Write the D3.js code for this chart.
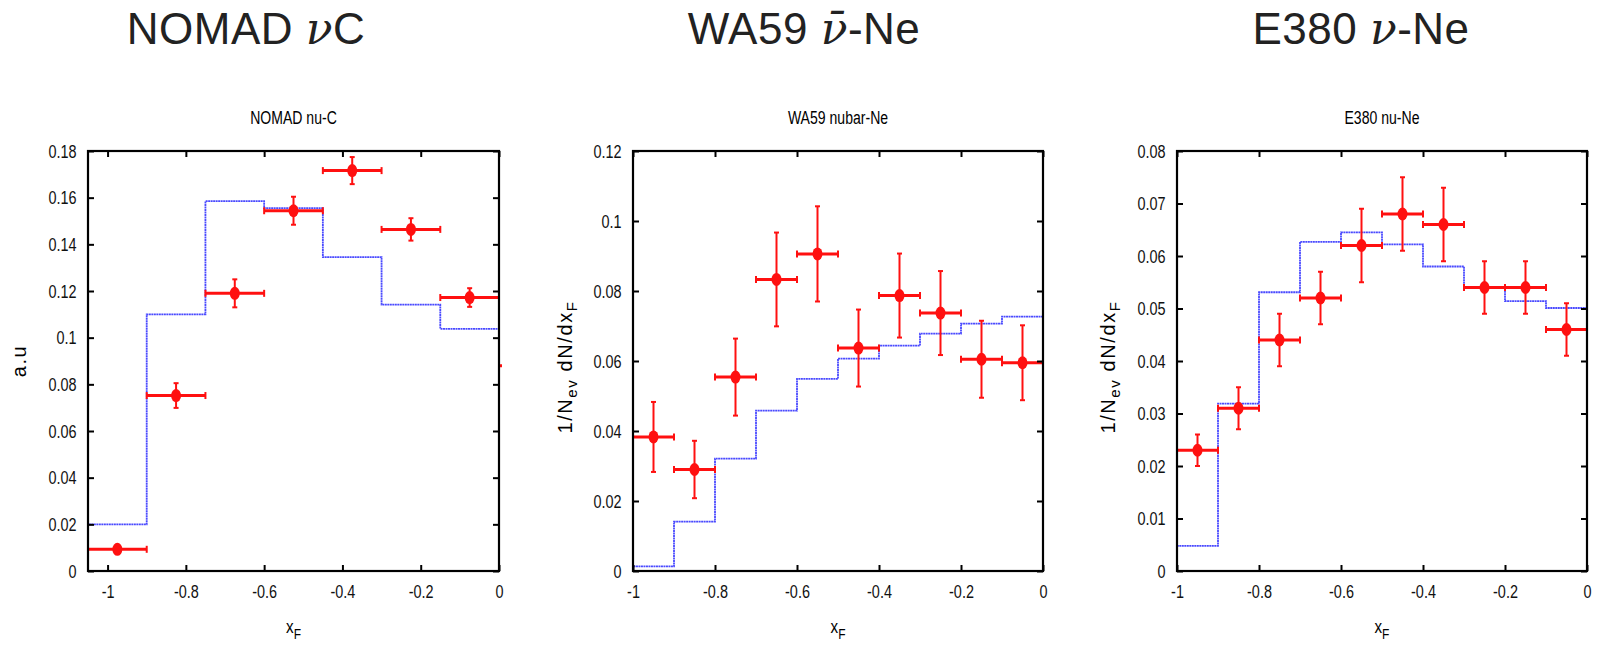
<!DOCTYPE html>
<html>
<head>
<meta charset="utf-8">
<script src="https://cdn.jsdelivr.net/npm/d3@7"></script>
<style>
  body { margin: 0; background: #fff; }
  text { font-family: "Liberation Sans", Arial, sans-serif; }
</style>
</head>
<body>
<svg id="chart" width="1598" height="659"></svg>
<script>
// bin edges, model histograms (blue) and measured points (red) for the three panels
const nomadEdges = [-1.05, -0.9, -0.75, -0.6, -0.45, -0.3, -0.15, 0];
const nomadModel = [0.020, 0.110, 0.1585, 0.1555, 0.1345, 0.1142, 0.1038];
const nomadX = [-0.975, -0.825, -0.675, -0.525, -0.375, -0.225, -0.075, 0.075];
const nomadY = [0.0093, 0.0752, 0.119, 0.1544, 0.1716, 0.1464, 0.1172, 0.088];
const nomadErr = [0, 0.0053, 0.006, 0.006, 0.0058, 0.0048, 0.004, 0.002];

const waEdges = [-1, -0.9, -0.8, -0.7, -0.6, -0.5, -0.4, -0.3, -0.2, -0.1, 0];
const waModel = [0.0013, 0.0141, 0.0321, 0.0458, 0.0549, 0.0607, 0.0644, 0.0678, 0.0707, 0.0727];
const waX = [-0.95, -0.85, -0.75, -0.65, -0.55, -0.45, -0.35, -0.25, -0.15, -0.05];
const waY = [0.0383, 0.029, 0.0554, 0.0833, 0.0906, 0.0637, 0.0787, 0.0737, 0.0605, 0.0595];
const waErr = [0.010, 0.0082, 0.011, 0.0134, 0.0136, 0.011, 0.012, 0.012, 0.011, 0.0107];

const e380Edges = [-1, -0.9, -0.8, -0.7, -0.6, -0.5, -0.4, -0.3, -0.2, -0.1, 0];
const e380Model = [0.0048, 0.0319, 0.0531, 0.0627, 0.0645, 0.0622, 0.058, 0.0541, 0.0514, 0.0501];
const e380X = [-0.95, -0.85, -0.75, -0.65, -0.55, -0.45, -0.35, -0.25, -0.15, -0.05];
const e380Y = [0.023, 0.031, 0.044, 0.052, 0.062, 0.068, 0.066, 0.054, 0.054, 0.046];
const e380Err = [0.003, 0.004, 0.005, 0.005, 0.007, 0.007, 0.007, 0.005, 0.005, 0.005];

const xTicks = [-1, -0.8, -0.6, -0.4, -0.2, 0];

const panels = [
  { big: "NOMAD ", sym: "ν", tail: "C", bar: false, bigX: 246, small: "NOMAD nu-C",
    left: 88, right: 499, xDom: [-1.05, 0], yMax: 0.18, yStep: 0.02, ylab: "a.u", ylabX: 20,
    edges: nomadEdges, model: nomadModel, px: nomadX, py: nomadY, pe: nomadErr },
  { big: "WA59 ", sym: "ν", tail: "-Ne", bar: true, bigX: 804, small: "WA59 nubar-Ne",
    left: 633, right: 1043, xDom: [-1, 0], yMax: 0.12, yStep: 0.02, ylab: "N", ylabX: 565,
    edges: waEdges, model: waModel, px: waX, py: waY, pe: waErr },
  { big: "E380 ", sym: "ν", tail: "-Ne", bar: false, bigX: 1361, small: "E380 nu-Ne",
    left: 1177, right: 1587, xDom: [-1, 0], yMax: 0.08, yStep: 0.01, ylab: "N", ylabX: 1108,
    edges: e380Edges, model: e380Model, px: e380X, py: e380Y, pe: e380Err }
];

const plotTop = 151, plotBottom = 571;
const svg = d3.select("#chart");

panels.forEach((p, i) => {
  const x = d3.scaleLinear().domain(p.xDom).range([p.left, p.right]);
  const y = d3.scaleLinear().domain([0, p.yMax]).range([plotBottom, plotTop]);
  const yTicks = d3.range(0, p.yMax + 1e-9, p.yStep);
  const fmt = v => +v.toFixed(3) + "";

  // big title
  const t = svg.append("text").attr("x", p.bigX).attr("y", 44)
    .attr("text-anchor", "middle").attr("font-size", 44).attr("fill", "#222")
    .attr("font-family", "Open Sans").attr("letter-spacing", 0.5);
  t.append("tspan").text(p.big);
  t.append("tspan").attr("font-style", "italic").attr("font-family", "DejaVu Serif")
    .text(p.bar ? "ν\u0304" : "ν");
  t.append("tspan").text(p.tail);

  // small title
  const cx = (p.left + p.right) / 2;
  svg.append("text").attr("x", cx).attr("y", 124)
    .attr("text-anchor", "middle").attr("font-size", 19)
    .attr("transform", `translate(${cx * 0.26},0) scale(0.74,1)`)
    .text(p.small);

  const clipId = "clip" + i;
  svg.append("clipPath").attr("id", clipId).append("rect")
    .attr("x", p.left).attr("y", plotTop).attr("width", p.right - p.left + 3).attr("height", plotBottom - plotTop);

  const g = svg.append("g").attr("clip-path", `url(#${clipId})`);

  // model histogram
  const pts = [[p.edges[0], 0]];
  p.model.forEach((v, k) => { pts.push([p.edges[k], v]); pts.push([p.edges[k + 1], v]); });
  pts.push([p.edges[p.edges.length - 1], 0]);
  g.append("path")
    .attr("d", d3.line().x(d => x(d[0])).y(d => y(d[1]))(pts))
    .attr("fill", "none").attr("stroke", "#4a4aff").attr("stroke-width", 1.8)
    .attr("stroke-dasharray", "2,0.5");

  // data points with error bars
  const hw = (p.edges[1] - p.edges[0]) / 2;
  p.px.forEach((xv, k) => {
    const yv = p.py[k], e = p.pe[k];
    const c = "#ff1010";
    const xa = x(xv - hw), xb = x(xv + hw), yc = y(yv);
    g.append("line").attr("x1", xa).attr("x2", xb).attr("y1", yc).attr("y2", yc)
      .attr("stroke", c).attr("stroke-width", 3);
    [xa, xb].forEach(xx => g.append("line").attr("x1", xx).attr("x2", xx)
      .attr("y1", yc - 3.5).attr("y2", yc + 3.5).attr("stroke", c).attr("stroke-width", 2));
    if (e > 0) {
      const ya = y(yv - e), yb = y(yv + e);
      g.append("line").attr("x1", x(xv)).attr("x2", x(xv)).attr("y1", ya).attr("y2", yb)
        .attr("stroke", c).attr("stroke-width", 2);
      [ya, yb].forEach(yy => g.append("line").attr("x1", x(xv) - 2.5).attr("x2", x(xv) + 2.5)
        .attr("y1", yy).attr("y2", yy).attr("stroke", c).attr("stroke-width", 2));
    }
    g.append("ellipse").attr("cx", x(xv)).attr("cy", yc).attr("rx", 5).attr("ry", 6.5).attr("fill", c);
  });

  // axes: inward ticks on all four sides
  const ax = svg.append("g");
  ax.append("g").attr("transform", `translate(0,${plotBottom})`)
    .call(d3.axisBottom(x).tickValues(xTicks).tickSize(-6).tickPadding(14).tickFormat(fmt))
    .call(s => s.select(".domain").remove());
  ax.append("g").attr("transform", `translate(0,${plotTop})`)
    .call(d3.axisTop(x).tickValues(xTicks).tickSize(-6).tickFormat(""))
    .call(s => s.select(".domain").remove());
  ax.append("g").attr("transform", `translate(${p.left},0)`)
    .call(d3.axisLeft(y).tickValues(yTicks).tickSize(-6).tickPadding(15).tickFormat(fmt))
    .call(s => s.select(".domain").remove());
  ax.append("g").attr("transform", `translate(${p.right},0)`)
    .call(d3.axisRight(y).tickValues(yTicks).tickSize(-6).tickFormat(""))
    .call(s => s.select(".domain").remove());
  ax.selectAll(".tick line").attr("stroke", "#000").attr("stroke-width", 2);
  ax.selectAll(".tick text").attr("fill", "#111").attr("font-family", "Liberation Sans")
    .attr("font-size", 19).attr("transform", "scale(0.76,1)");

  svg.append("rect").attr("x", p.left).attr("y", plotTop)
    .attr("width", p.right - p.left).attr("height", plotBottom - plotTop)
    .attr("fill", "none").attr("stroke", "#000").attr("stroke-width", 2.2);

  // axis labels
  const xl = svg.append("text").attr("x", cx).attr("y", 633)
    .attr("text-anchor", "middle").attr("font-size", 19)
    .attr("transform", `translate(${cx * 0.2},0) scale(0.8,1)`);
  xl.append("tspan").text("x");
  xl.append("tspan").attr("dy", 6).attr("font-size", 15).text("F");

  const yl = svg.append("text").attr("transform", `translate(${p.ylabX},${p.ylab === "a.u" ? 361 : 367}) rotate(-90)`)
    .attr("text-anchor", "middle").attr("font-size", 20).attr("letter-spacing", 1.6);
  if (p.ylab === "a.u") {
    yl.attr("dy", 6).text("a.u");
  } else {
    yl.append("tspan").attr("dy", 7).text("1/N");
    yl.append("tspan").attr("dy", 5).attr("font-size", 15).text("ev");
    yl.append("tspan").attr("dy", -5).text(" dN/dx");
    yl.append("tspan").attr("dy", 5).attr("font-size", 15).text("F");
  }
});
</script>
</body>
</html>
